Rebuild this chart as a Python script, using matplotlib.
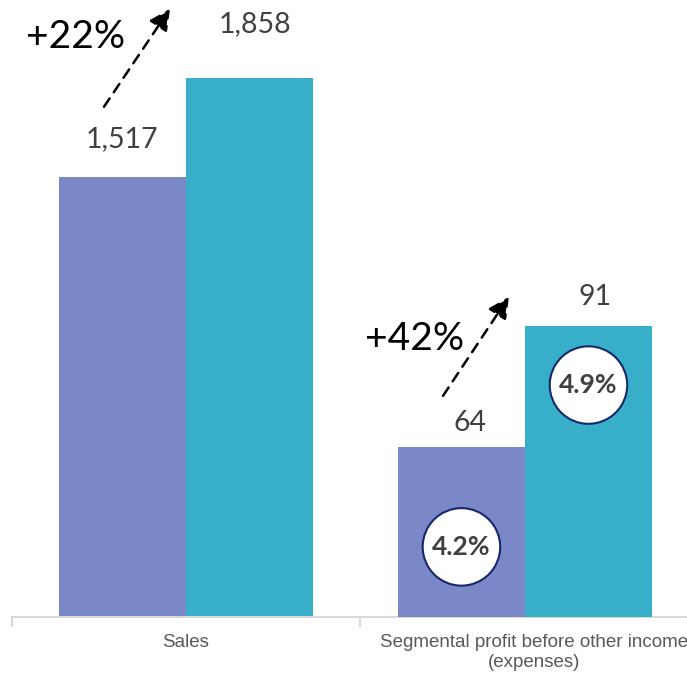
import matplotlib.pyplot as plt

# Values
categories = ["Sales", "Segmental profit before other income\n(expenses)"]
sales = [1517, 1858]
profit = [64, 91]
margins = ["4.2%", "4.9%"]
growth = ["+22%", "+42%"]

PURPLE = "#7b88c8"
TEAL = "#38afc8"
GRID = "#d9d9d9"
NUM = "#404040"

fig = plt.figure(figsize=(6.87, 6.74), dpi=100)
ax = fig.add_axes([12 / 687, 57 / 674, 696 / 687, 617 / 674])
ax2 = ax.twinx()

w = 0.365
# sales on the main axis
ax.bar([-w / 2, w / 2], sales, width=w, color=[PURPLE, TEAL], align="center")
ax.set_ylim(0, 2127)
ax.set_xlim(-0.5, 1.5)

# profit on its own scale
px = [1 - 0.026 - w / 2, 1 - 0.026 + w / 2]
ax2.bar(px, profit, width=w, color=[PURPLE, TEAL], align="center")
ax2.set_ylim(26.06, 163.7)

# value labels above bars
offsets = [(0, 27), (4, 39)]
for x, v, off in zip([-w / 2, w / 2], sales, offsets):
    ax.annotate(f"{v:,}", (x, v), xytext=off, textcoords="offset points",
                ha="center", va="center", fontsize=20.5, color=NUM, family="Lato")
offsets = [(6, 17), (5, 21)]
for x, v, off in zip(px, profit, offsets):
    ax2.annotate(f"{v:,}", (x, v), xytext=off, textcoords="offset points",
                 ha="center", va="center", fontsize=20.5, color=NUM, family="Lato")

# margin circles
for x, y, m in zip(px, [41.7, 77.8], margins):
    ax2.text(x, y, m, ha="center", va="center", fontsize=19, fontweight="bold",
             color=NUM, family="Lato",
             bbox=dict(boxstyle="circle,pad=0.36", fc="white", ec="#15286b", lw=1.5))

# growth arrows
arrow = dict(arrowstyle="-|>", linestyle=(0, (4, 3)), lw=1.8, color="black",
             mutation_scale=32, shrinkA=0, shrinkB=0)
ax.annotate("", xy=(-0.046, 2097), xytext=(-0.2356, 1759), arrowprops=arrow)
ax.text(-0.316, 2000, growth[0], ha="center", va="center", fontsize=28,
        color="black", family="Lato")
ax2.annotate("", xy=(0.928, 97.5), xytext=(0.7385, 75.4), arrowprops=arrow)
ax2.text(0.658, 88.1, growth[1], ha="center", va="center", fontsize=28,
         color="black", family="Lato")

# axis styling
for a in (ax, ax2):
    for s in ("top", "right", "left"):
        a.spines[s].set_visible(False)
    a.set_yticks([])
ax2.spines["bottom"].set_visible(False)
ax.spines["bottom"].set_color(GRID)
ax.spines["bottom"].set_linewidth(1.5)
ax.set_xticks([-0.5, 0.5, 1.5])
ax.set_xticklabels([])
ax.tick_params(axis="x", which="major", length=7, width=1.5, color=GRID)
ax.set_xticks([0, 1], minor=True)
ax.set_xticklabels(categories, minor=True, fontsize=13.5, color="#595959",
                   family="Liberation Sans", linespacing=1.25)
ax.tick_params(axis="x", which="minor", length=0, pad=12)

fig.savefig("out.png", dpi=100)
